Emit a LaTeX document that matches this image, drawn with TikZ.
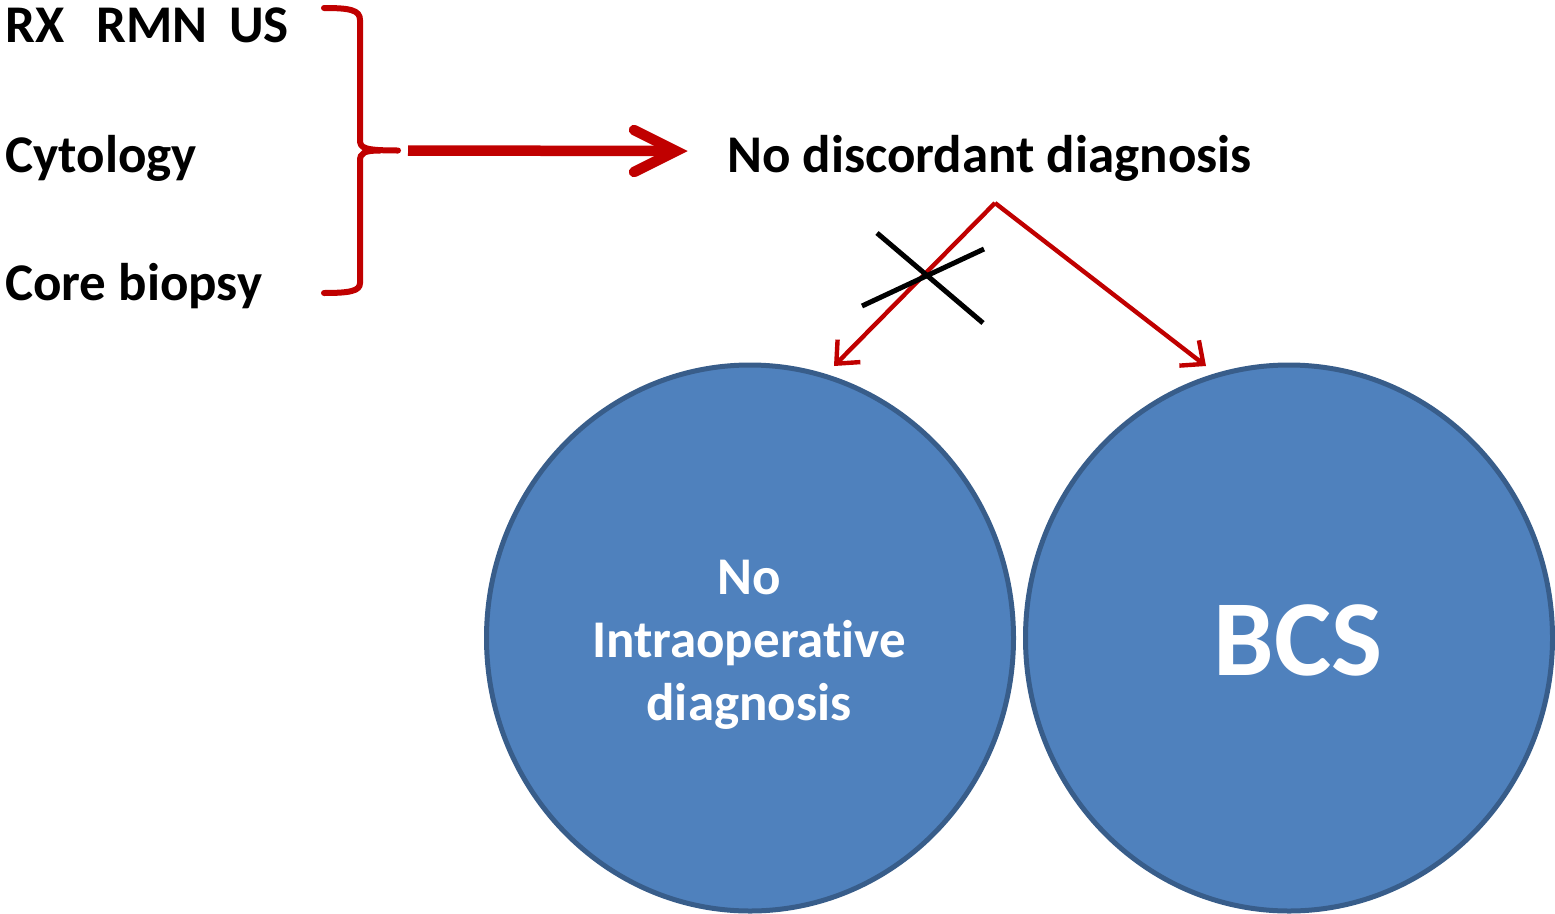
\documentclass[tikz,border=0pt]{standalone}
\usepackage{fontspec}
\setmainfont{Carlito}[Ligatures={NoCommon}]
\usetikzlibrary{arrows.meta,shapes.geometric}
\definecolor{bred}{HTML}{C00000}
\definecolor{cfill}{HTML}{4F81BD}
\definecolor{cdraw}{HTML}{385D8A}
\begin{document}
\begin{tikzpicture}[x=1pt,y=-1pt,
  txt/.style={inner sep=0pt,anchor=base west,font=\fontsize{53}{63}\selectfont\bfseries},
  bub/.style={ellipse,draw=cdraw,fill=cfill,line width=5pt,minimum width=527pt,minimum height=546pt,inner sep=0pt},
  redarrow/.style={draw=bred,line width=4.4pt,-{Straight Barb[length=18pt,width=32pt,line width=4.4pt]}},
  crossline/.style={draw=black,line width=5pt},
  bracepath/.style={draw=bred,line width=6pt,line cap=round}]
\useasboundingbox (0,0) rectangle (1555,913);
% left texts
\node[txt] (rx) at (5,42) {RX\hspace{32pt}RMN\hspace{22pt}US};
\node[txt] (cyt) at (5,172) {Cytology};
\node[txt] (core) at (5,300) {Core biopsy};
\node[txt] (nd) at (727,172) {No discordant diagnosis};
% brace
\draw[bracepath]
  (324,8) .. controls (350,8) and (360,10) .. (360,20) -- (360,140)
  .. controls (360,148) and (364,150.5) .. (398,150.5);
\draw[bracepath]
  (324,293) .. controls (350,293) and (360,291) .. (360,283) -- (360,161)
  .. controls (360,153) and (364,150.5) .. (380,150.5);
% big arrow
\coordinate (bs) at (408,150.5);
\coordinate (bt) at (676,151);
\draw[bred,line width=10.5pt] (bs) -- (bt);
\draw[bred,line width=10.5pt,line cap=round,line join=miter] (634,130) -- (bt) -- (634,172);
% circles
\node[bub] (c1) at (750,638) {};
\node[bub] (c2) at (1289,638) {};
\node[inner sep=0pt,text=white,align=center,font=\fontsize{53}{63}\selectfont\bfseries] (t1) at (749,645) {No\\Intraoperative\\diagnosis};
\node[inner sep=0pt,text=white,anchor=base,font=\fontsize{108}{110}\selectfont\bfseries] (t2) at (1298,675) {BCS};
% arrows down
\coordinate (apex) at (995,203);
\coordinate (l1) at (834,366);
\coordinate (r1) at (1206,366);
\draw[redarrow] (apex) -- (l1);
\draw[redarrow] (apex) -- (r1);
% cross
\coordinate (xa) at (877,233);
\coordinate (xb) at (983,323);
\coordinate (xc) at (862,306);
\coordinate (xd) at (984,249);
\draw[crossline] (xa) -- (xb);
\draw[crossline] (xc) -- (xd);
\end{tikzpicture}
\end{document}
